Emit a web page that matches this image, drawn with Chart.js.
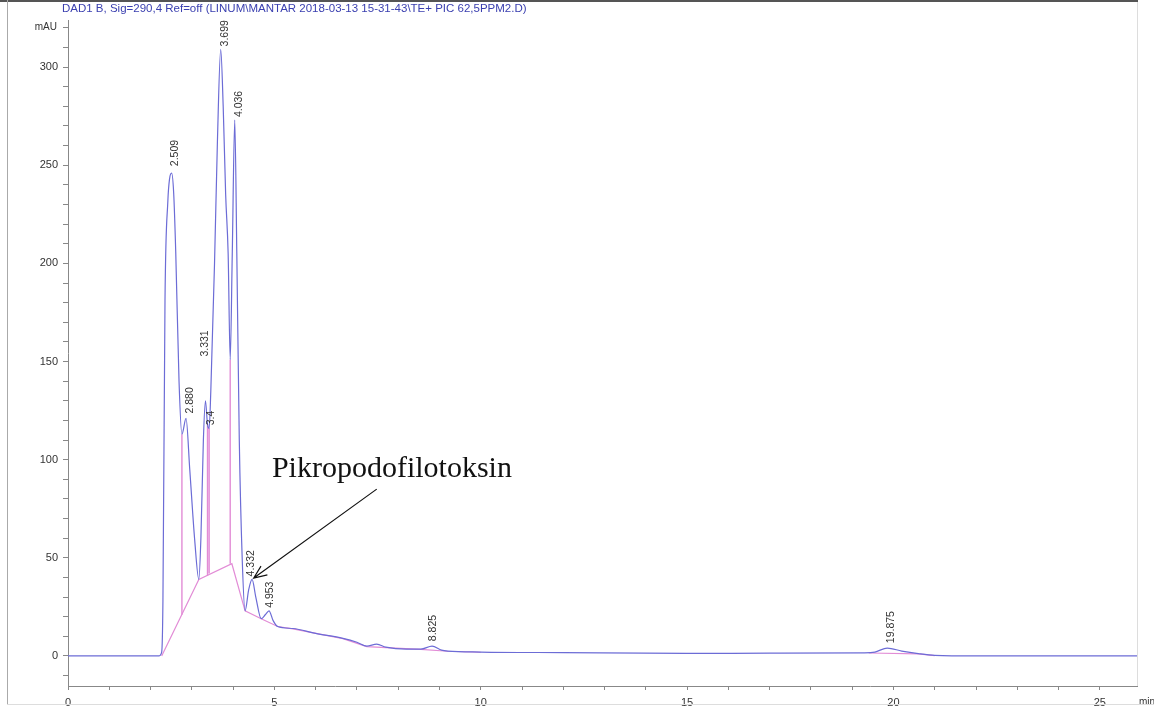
<!DOCTYPE html>
<html>
<head>
<meta charset="utf-8">
<script src="https://cdn.jsdelivr.net/npm/chart.js@4/dist/chart.umd.min.js"></script>
<style>
  html, body { margin: 0; padding: 0; background: #fff; }
</style>
</head>
<body>
<canvas id="cromatograma" width="1154" height="711"></canvas>
<script>
/* Cromatograma DAD1 B - sinal (azul), linha de base da integracao (rosa) */
const tempo_sinal = [0, 2.2, 2.27, 2.30, 2.35, 2.42, 2.46, 2.51, 2.56, 2.61, 2.69, 2.76, 2.86, 2.95, 3.07, 3.17, 3.22, 3.28, 3.33, 3.38, 3.42, 3.46, 3.55, 3.62, 3.70, 3.76, 3.82, 3.88, 3.93, 3.98, 4.04, 4.09, 4.15, 4.22, 4.29, 4.38, 4.46, 4.55, 4.68, 4.78, 4.87, 4.97, 5.08, 5.45, 6.0, 6.66, 7.0, 7.24, 7.48, 7.7, 8.2, 8.55, 8.82, 9.05, 9.2, 10, 12, 15, 17, 19.3, 19.55, 19.85, 20.2, 20.6, 21.0, 22.0, 25.9];
const valor_sinal = [0, 0, 2, 28, 181, 232, 243, 246, 236, 206, 140, 113, 121, 95, 59, 39, 60, 110, 130, 118, 116, 135, 200, 262, 309, 280, 235, 205, 151, 205, 273, 205, 110, 50, 23, 34, 39, 30, 19, 21, 23, 18, 15, 14, 11.5, 9, 7, 5, 6, 4.5, 3.5, 3.5, 5, 3, 2.5, 2, 1.7, 1.3, 1.4, 1.6, 2, 4, 2.5, 1.2, 0.3, 0, 0];

const tempo_base = [2.27, 3.17, 3.97, 4.29, 4.68, 5.08, 5.45, 6.66, 7.24, 7.7, 8.55, 9.2, 10, null, 19.4, 20.6, 21.0];
const valor_base = [0, 39, 47, 23, 19, 15, 13.8, 8.8, 4.8, 4.3, 3.4, 2.4, 1.9, null, 1.5, 1.1, 0.2];

/* linhas verticais de separacao dos picos */
const tempo_corte = [2.76, 3.38, 3.42, 3.93];
const topo_corte = [113, 118, 116, 151];
const fundo_corte = [21, 41, 42, 47];

/* rotulos dos picos (tempo de retencao) */
const nomes_picos = ['2.509', '2.880', '3.331', '3.4', '3.699', '4.036', '4.332', '4.953', '8.825', '19.875'];
const tempo_picos = [2.51, 2.86, 3.22, 3.37, 3.70, 4.04, 4.33, 4.80, 8.74, 19.85];
const altura_picos = [248, 122, 151, 116, 309, 273, 39, 23, 6, 5];

/* marcas dos eixos */
const ticks_x = [0, 1, 2, 3, 4, 5, 6, 7, 8, 9, 10, 11, 12, 13, 14, 15, 16, 17, 18, 19, 20, 21, 22, 23, 24, 25];
const ticks_y = [-10, 0, 10, 20, 30, 40, 50, 60, 70, 80, 90, 100, 110, 120, 130, 140, 150, 160, 170, 180, 190, 200, 210, 220, 230, 240, 250, 260, 270, 280, 290, 300, 310, 320];

const titulo = 'DAD1 B, Sig=290,4 Ref=off (LINUM\\MANTAR 2018-03-13 15-31-43\\TE+ PIC 62,5PPM2.D)';
const nota_texto = 'Pikropodofilotoksin';
const nota_pos = [4.94, 91];
const seta_de = [7.48, 85];
const seta_para = [4.5, 39.7];

function pares(xs, ys) {
  return xs.map((x, i) => ({ x: x === null ? NaN : x, y: ys[i] }));
}

const pontos_corte = [];
tempo_corte.forEach((t, i) => {
  pontos_corte.push({ x: t, y: topo_corte[i] });
  pontos_corte.push({ x: t, y: fundo_corte[i] });
  pontos_corte.push({ x: t, y: null });
});

const plugin_anotacoes = {
  id: 'anotacoes',
  afterDatasetsDraw(chart) {
    const ctx = chart.ctx;
    const sx = chart.scales.x, sy = chart.scales.y;
    ctx.save();

    // rotulos verticais dos picos
    ctx.fillStyle = '#333';
    ctx.font = '10.5px "Liberation Sans", Arial, sans-serif';
    ctx.textAlign = 'left';
    ctx.textBaseline = 'middle';
    nomes_picos.forEach((nome, i) => {
      const px = sx.getPixelForValue(tempo_picos[i]);
      const py = sy.getPixelForValue(altura_picos[i]);
      ctx.save();
      ctx.translate(px + 4, py - 3);
      ctx.rotate(-Math.PI / 2);
      ctx.fillText(nome, 0, 0);
      ctx.restore();
    });

    // texto e seta
    ctx.fillStyle = '#111';
    ctx.font = '30px "Liberation Serif", "Times New Roman", serif';
    ctx.textBaseline = 'alphabetic';
    ctx.fillText(nota_texto, sx.getPixelForValue(nota_pos[0]), sy.getPixelForValue(nota_pos[1]));

    const x1 = sx.getPixelForValue(seta_de[0]), y1 = sy.getPixelForValue(seta_de[1]);
    const x2 = sx.getPixelForValue(seta_para[0]), y2 = sy.getPixelForValue(seta_para[1]);
    const ang = Math.atan2(y2 - y1, x2 - x1);
    ctx.strokeStyle = '#111';
    ctx.lineWidth = 1.2;
    ctx.beginPath();
    ctx.moveTo(x1, y1);
    ctx.lineTo(x2, y2);
    ctx.moveTo(x2 - 14 * Math.cos(ang - 0.4), y2 - 14 * Math.sin(ang - 0.4));
    ctx.lineTo(x2, y2);
    ctx.lineTo(x2 - 14 * Math.cos(ang + 0.4), y2 - 14 * Math.sin(ang + 0.4));
    ctx.stroke();

    // titulo e unidades
    ctx.fillStyle = '#3b40b0';
    ctx.font = '11.5px "Liberation Sans", Arial, sans-serif';
    ctx.textBaseline = 'middle';
    ctx.fillText(titulo, 62, 9);
    ctx.fillStyle = '#333';
    ctx.font = '10px "Liberation Sans", Arial, sans-serif';
    ctx.textAlign = 'right';
    ctx.fillText('mAU', 57, 27);
    ctx.textAlign = 'left';
    ctx.fillText('min', 1139, 702);

    // moldura
    ctx.fillStyle = '#555';
    ctx.fillRect(0, 0, 1138, 2);
    ctx.fillStyle = '#aaa';
    ctx.fillRect(7, 0, 1, 704);
    ctx.fillStyle = '#ddd';
    ctx.fillRect(1137, 2, 1, 684);
    ctx.fillRect(7, 704, 1147, 1);
    ctx.restore();
  }
};

const config_cromatograma = {
  type: 'scatter',
  data: {
    datasets: [
      {
        label: 'Sinal',
        data: pares(tempo_sinal, valor_sinal),
        showLine: true,
        borderColor: 'rgb(108, 108, 214)',
        borderWidth: 1.2,
        pointRadius: 0,
        cubicInterpolationMode: 'monotone'
      },
      {
        label: 'Linha de base',
        data: pares(tempo_base, valor_base),
        showLine: true,
        spanGaps: false,
        borderColor: 'rgb(226, 140, 214)',
        borderWidth: 1.2,
        pointRadius: 0
      },
      {
        label: 'Cortes',
        data: pontos_corte,
        showLine: true,
        spanGaps: false,
        borderColor: 'rgb(226, 140, 214)',
        borderWidth: 1.4,
        pointRadius: 0
      }
    ]
  },
  options: {
    responsive: false,
    animation: false,
    devicePixelRatio: 1,
    layout: { padding: { top: 20, right: 17, left: 0, bottom: 0 } },
    plugins: { legend: { display: false }, tooltip: { enabled: false } },
    scales: {
      x: {
        type: 'linear',
        min: 0,
        max: 25.9,
        afterFit: s => { s.height = 25; },
        afterBuildTicks: s => { s.ticks = ticks_x.map(v => ({ value: v })); },
        ticks: {
          autoSkip: false,
          maxRotation: 0,
          padding: 6,
          color: '#333',
          font: { family: '"Liberation Sans", Arial, sans-serif', size: 11 },
          callback: v => (v % 5 === 0 ? v : '')
        },
        grid: { drawOnChartArea: false, tickLength: 4, color: '#888' },
        border: { color: '#888' }
      },
      y: {
        min: -15.3,
        max: 324,
        afterFit: s => { s.width = 68; },
        afterBuildTicks: s => { s.ticks = ticks_y.map(v => ({ value: v })); },
        ticks: {
          autoSkip: false,
          padding: 5,
          color: '#333',
          font: { family: '"Liberation Sans", Arial, sans-serif', size: 11 },
          callback: v => (v % 50 === 0 ? v : '')
        },
        grid: { drawOnChartArea: false, tickLength: 5, color: '#888' },
        border: { color: '#888' }
      }
    }
  },
  plugins: [plugin_anotacoes]
};

const grafico_cromatograma = new Chart(
  document.getElementById('cromatograma'),
  config_cromatograma
);
</script>
</body>
</html>
